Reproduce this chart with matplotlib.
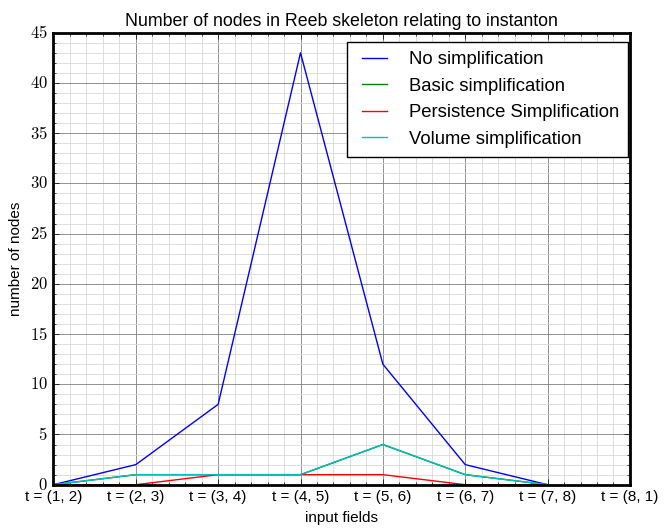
import numpy as np
import matplotlib
matplotlib.use("Agg")
import matplotlib.pyplot as plt
from matplotlib.ticker import MultipleLocator, AutoMinorLocator, FuncFormatter

labels = ["t = (1, 2)", "t = (2, 3)", "t = (3, 4)", "t = (4, 5)",
          "t = (5, 6)", "t = (6, 7)", "t = (7, 8)", "t = (8, 1)"]
no_simp = [0, 2, 8, 43, 12, 2, 0]
basic_simp = [0, 1, 1, 1, 4, 1, 0]
pers_simp = [0, 0, 1, 1, 1, 0, 0]
vol_simp = [0, 1, 1, 1, 4, 1, 0]

plt.style.use("classic")
plt.rcParams["font.family"] = ["Liberation Sans", "DejaVu Sans"]
plt.rcParams["mathtext.fontset"] = "cm"

fig = plt.figure(figsize=(6.68, 5.28), dpi=100)
ax = fig.add_axes([0.080, 0.082, 0.863, 0.856])

x = np.arange(len(no_simp))
ax.plot(x, no_simp, color="b", lw=1, label="No simplification")
ax.plot(x, basic_simp, color="g", lw=1, label="Basic simplification")
ax.plot(x, pers_simp, color="r", lw=1, label="Persistence Simplification")
ax.plot(x, vol_simp, color="c", lw=1, label="Volume simplification")

ax.set_xlim(0, len(labels) - 1)
ax.set_ylim(0, 45)
ax.set_xticks(np.arange(len(labels)))
ax.set_xticklabels(labels, fontsize=11)
ax.yaxis.set_major_locator(MultipleLocator(5))
ax.yaxis.set_major_formatter(FuncFormatter(lambda v, p: r"$%d$" % v))
ax.xaxis.set_minor_locator(AutoMinorLocator(5))
ax.yaxis.set_minor_locator(AutoMinorLocator(5))
ax.tick_params(axis="y", labelsize=12)

ax.grid(True, which="major", color="#808080", linestyle="-", lw=0.6)
ax.grid(True, which="minor", color="#d8d8d8", linestyle="-", lw=0.6)
ax.set_axisbelow(True)
for s in ax.spines.values():
    s.set_linewidth(2)

ax.set_title("Number of nodes in Reeb skeleton relating to instanton", fontsize=12.8)
ax.set_xlabel("input fields", fontsize=11)
ax.set_ylabel("number of nodes", fontsize=11)
leg = ax.legend(loc="upper right", bbox_to_anchor=(0.997, 0.98), fontsize=13.3,
                handlelength=2.0, handletextpad=0.85, fancybox=False,
                borderaxespad=0, labelspacing=0.52, borderpad=0.5)
leg.get_frame().set_edgecolor("black")

fig.savefig("out.png", dpi=100)
